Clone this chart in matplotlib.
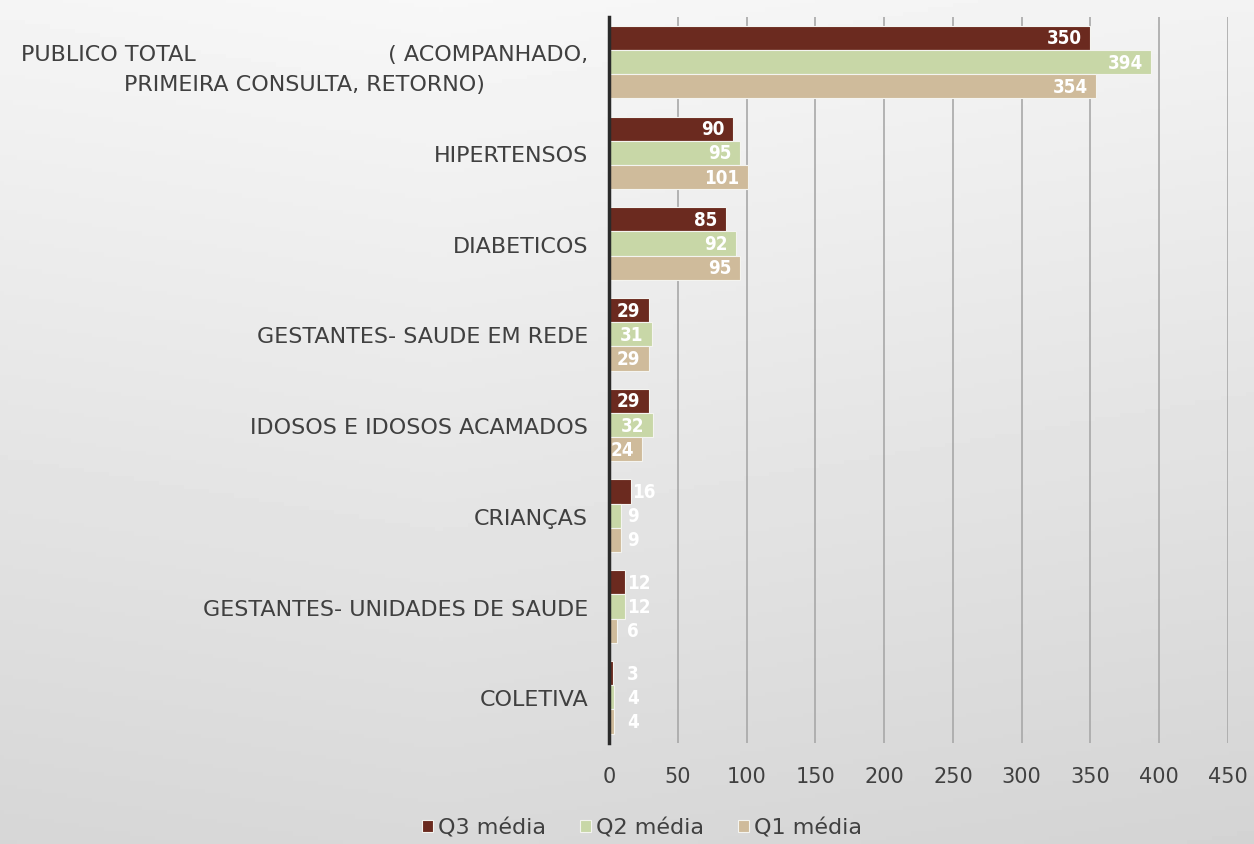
import numpy as np
import matplotlib
matplotlib.use('Agg')
from matplotlib import pyplot as plt

categories = ['PUBLICO TOTAL' + ' ' * 27 + '( ACOMPANHADO,\nPRIMEIRA CONSULTA, RETORNO)',
              'HIPERTENSOS', 'DIABETICOS', 'GESTANTES- SAUDE EM REDE',
              'IDOSOS E IDOSOS ACAMADOS', 'CRIANÇAS',
              'GESTANTES- UNIDADES DE SAUDE', 'COLETIVA']
q3 = [350, 90, 85, 29, 29, 16, 12, 3]
q2 = [394, 95, 92, 31, 32, 9, 12, 4]
q1 = [354, 101, 95, 29, 24, 9, 6, 4]
series_names = ['Q3 média', 'Q2 média', 'Q1 média']
colors = ['#6b2a1f', '#c8d7a7', '#cfbb9b']

fig = plt.figure(figsize=(12.54, 8.45), dpi=100)

# background gradient
bg = fig.add_axes([0, 0, 1, 1], zorder=-10)
yy, xx = np.mgrid[0:1:200j, 0:1:300j]
shade = 0.97 - 0.12 * yy - 0.03 * np.abs(xx - 0.35)
bg.imshow(shade, cmap='gray', vmin=0, vmax=1, aspect='auto', extent=[0, 1, 0, 1])
bg.axis('off')

ax = fig.add_axes([0.4856, 0.12, 0.4937, 0.859])
ax.set_facecolor('none')

y = np.arange(len(categories))
h = 0.267
label_font = dict(family='DejaVu Sans', fontstretch='condensed', fontweight='bold',
                  fontsize=13.5, color='white')
for i, (vals, name, c) in enumerate(zip([q3, q2, q1], series_names, colors)):
    pos = y + (i - 1) * h
    ax.barh(pos, vals, height=h, color=c, edgecolor='#f4f4f0', linewidth=0.8,
            label=name, zorder=3)
    for p, v in zip(pos, vals):
        if v >= 20:
            ax.text(v - 6, p, str(v), ha='right', va='center', zorder=4, **label_font)
        else:
            ax.text(max(v, 12) + 1, p, str(v), ha='left', va='center', zorder=4, **label_font)

ax.set_xlim(0, 450)
ax.set_ylim(len(categories) - 0.5, -0.5)
ax.set_xticks(np.arange(0, 451, 50))
ax.set_yticks(y)
ax.set_yticklabels(categories)
for lab in ax.get_yticklabels():
    lab.set_multialignment('center')
    lab.set_linespacing(1.6)
ax.tick_params(axis='y', length=0, pad=15, labelsize=16, labelcolor='#404040')
ax.tick_params(axis='x', length=0, pad=17, labelsize=15, labelcolor='#404040')
ax.xaxis.grid(True, color='#a8a8a8', linewidth=1.2, zorder=0)
ax.set_axisbelow(True)
for s in ['top', 'right', 'bottom']:
    ax.spines[s].set_visible(False)
ax.spines['left'].set_color('#2a2a2a')
ax.spines['left'].set_linewidth(2.5)
ax.spines['left'].set_zorder(5)

leg = fig.legend(loc='center', bbox_to_anchor=(0.512, 0.019), ncol=3, frameon=False,
                 fontsize=16, handlelength=0.5, handleheight=0.5, columnspacing=1.5,
                 handletextpad=0.25)
for t in leg.get_texts():
    t.set_color('#404040')

fig.savefig('out.png', dpi=100)
